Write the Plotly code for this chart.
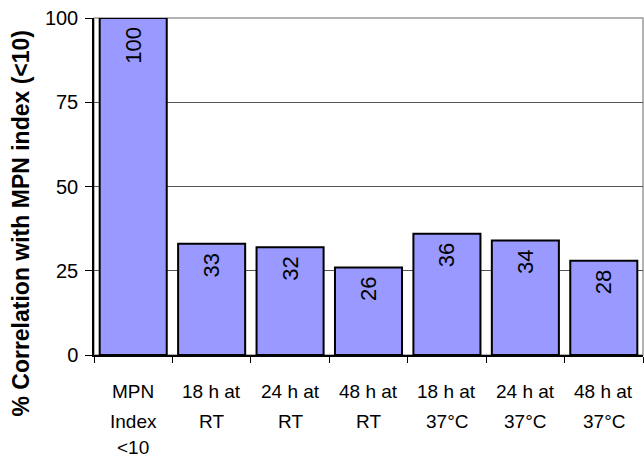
import plotly.graph_objects as go

categories = ["MPN Index <10", "18 h at RT", "24 h at RT", "48 h at RT",
              "18 h at 37°C", "24 h at 37°C", "48 h at 37°C"]
tick_lines = [["MPN", "Index", "<10"], ["18 h at", "RT"], ["24 h at", "RT"],
              ["48 h at", "RT"], ["18 h at", "37°C"], ["24 h at", "37°C"],
              ["48 h at", "37°C"]]
values = [100, 33, 32, 26, 36, 34, 28]
y_ticks = [0, 25, 50, 75, 100]
y_title = "% Correlation with MPN index (<10)"

FONT = "Arial, Liberation Sans, sans-serif"

fig = go.Figure()
fig.add_trace(go.Bar(
    x=categories, y=values,
    marker=dict(color="#9999FF", line=dict(color="black", width=2)),
    text=[f"{v}\u00a0" for v in values],
    textposition="inside", insidetextanchor="end", textangle=-90,
    constraintext="none",
    textfont=dict(family=FONT, size=22, color="black"),
))

annotations = []
shifts = [-36, -66, -92]
for cat, lines in zip(categories, tick_lines):
    for i, ln in enumerate(lines):
        annotations.append(dict(
            x=cat, xref="x", y=0, yref="paper", yshift=shifts[i],
            text=ln, showarrow=False, xanchor="center", yanchor="middle",
            font=dict(family=FONT, size=19, color="black")))
annotations.append(dict(
    x=0, xref="paper", xshift=-73, y=0.39, yref="paper",
    text=f"<b>{y_title}</b>", textangle=-90, showarrow=False,
    xanchor="center", yanchor="middle",
    font=dict(family=FONT, size=23, color="black")))

fig.update_layout(
    width=644, height=458,
    margin=dict(l=94, r=1, t=18, b=103),
    paper_bgcolor="white", plot_bgcolor="white",
    bargap=0.145, showlegend=False,
    annotations=annotations,
    shapes=[dict(type="rect", xref="paper", yref="paper", x0=0, x1=1, y0=0, y1=1,
                 line=dict(color="#999999", width=1.5), layer="below")],
    font=dict(family=FONT, color="black"),
)
fig.update_xaxes(
    type="category", showticklabels=False, tickson="boundaries",
    ticks="outside", ticklen=6, tickcolor="black",
    showline=True, linecolor="black", linewidth=1.5, showgrid=False,
)
fig.update_yaxes(
    range=[0, 100], tickvals=y_ticks, ticks="outside", ticklen=7,
    ticklabelstandoff=3,
    tickcolor="black", showline=True, linecolor="black", linewidth=1.5,
    showgrid=True, gridcolor="#555555", gridwidth=1, zeroline=False,
    tickfont=dict(family=FONT, size=20, color="black"),
)

fig.write_html("out.html", config={"displayModeBar": False},
               post_script="document.body.style.margin='0';document.body.style.padding='0';")
